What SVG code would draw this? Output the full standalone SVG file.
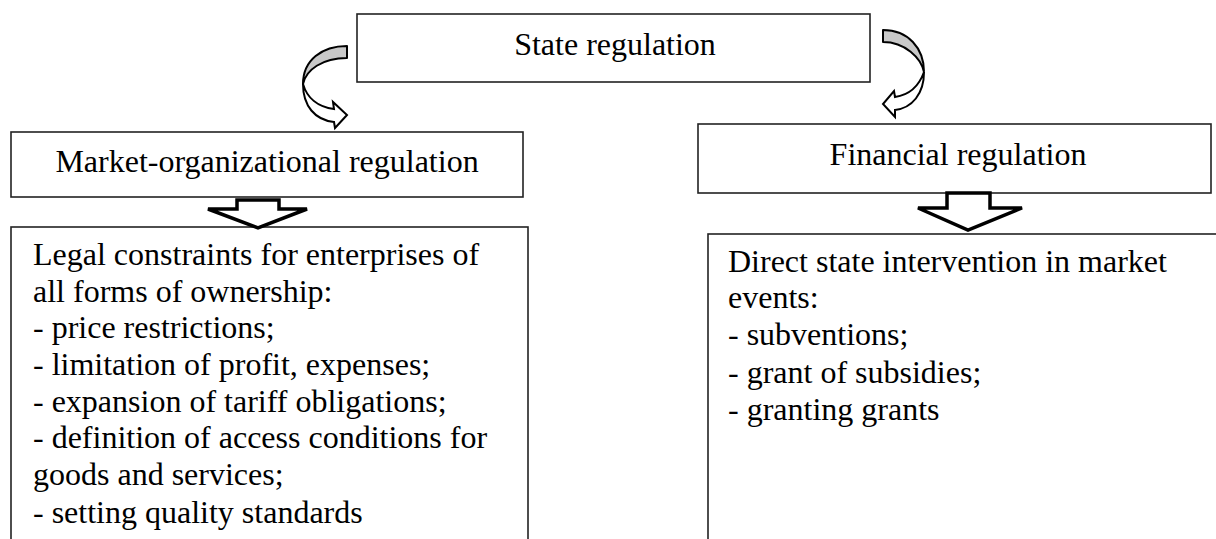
<svg xmlns="http://www.w3.org/2000/svg" width="1216" height="539" viewBox="0 0 1216 539">
<style>
.box{fill:#fff;stroke:#222;stroke-width:1.6}
.t{font-family:"Liberation Serif","Times New Roman",serif;font-size:32px;fill:#000}
.c{text-anchor:middle}
.back{fill:#c8c8c8;stroke:#000;stroke-width:2;stroke-linejoin:round}
.front{fill:#fff;stroke:#000;stroke-width:2;stroke-linejoin:miter}
.block{fill:#fff;stroke:#000;stroke-width:3.5;stroke-linejoin:miter}
</style>
<rect width="1216" height="539" fill="#fff"/>
<g id="node-state">
<rect class="box" x="357" y="14" width="513" height="68"/>
<text class="t c" x="615" y="55">State regulation</text>
</g>
<g id="node-market">
<rect class="box" x="11" y="132" width="512" height="65"/>
<text class="t c" x="267" y="172">Market-organizational regulation</text>
</g>
<g id="node-financial">
<rect class="box" x="698" y="124" width="513" height="69"/>
<text class="t c" x="958" y="165">Financial regulation</text>
</g>
<g id="node-legal">
<rect class="box" x="11" y="227" width="517" height="330"/>
<text class="t" x="33" y="265">Legal constraints for enterprises of</text>
<text class="t" x="33" y="302">all forms of ownership:</text>
<text class="t" x="33" y="338">- price restrictions;</text>
<text class="t" x="33" y="375">- limitation of profit, expenses;</text>
<text class="t" x="33" y="412">- expansion of tariff obligations;</text>
<text class="t" x="33" y="448">- definition of access conditions for</text>
<text class="t" x="33" y="485">goods and services;</text>
<text class="t" x="33" y="523">- setting quality standards</text>
</g>
<g id="node-direct">
<rect class="box" x="708" y="234" width="530" height="330"/>
<text class="t" x="728" y="272">Direct state intervention in market</text>
<text class="t" x="728" y="308">events:</text>
<text class="t" x="728" y="345">- subventions;</text>
<text class="t" x="728" y="383">- grant of subsidies;</text>
<text class="t" x="728" y="420">- granting grants</text>
</g>
<g id="connectors">
<g id="curved-left">
<path class="back" d="M347,46 C322,46 303,60 303,84 C306,70 322,58 347,58 Z"/>
<path class="front" d="M303,84 C303,106 315,120 334,122 L335,128 L347,115 L333,102 L334,109 C318,107 307,98 303,84 Z"/>
</g>
<g id="curved-right">
<path class="back" d="M883,30 C908,30 924,48 924,72 C921,58 905,42 883,42 Z"/>
<path class="front" d="M924,72 C924,94 912,108 895,110 L895,117 L883,104 L894,91 L895,97 C909,95 919,86 924,72 Z"/>
</g>
<polygon id="block-left" class="block" points="237,200 279,200 279,209 307,209 258,228 208,209 237,209"/>
<polygon id="block-right" class="block" points="947,193 990,193 990,208 1022,208 968,230 918,208 947,208"/>
</g>
</svg>
